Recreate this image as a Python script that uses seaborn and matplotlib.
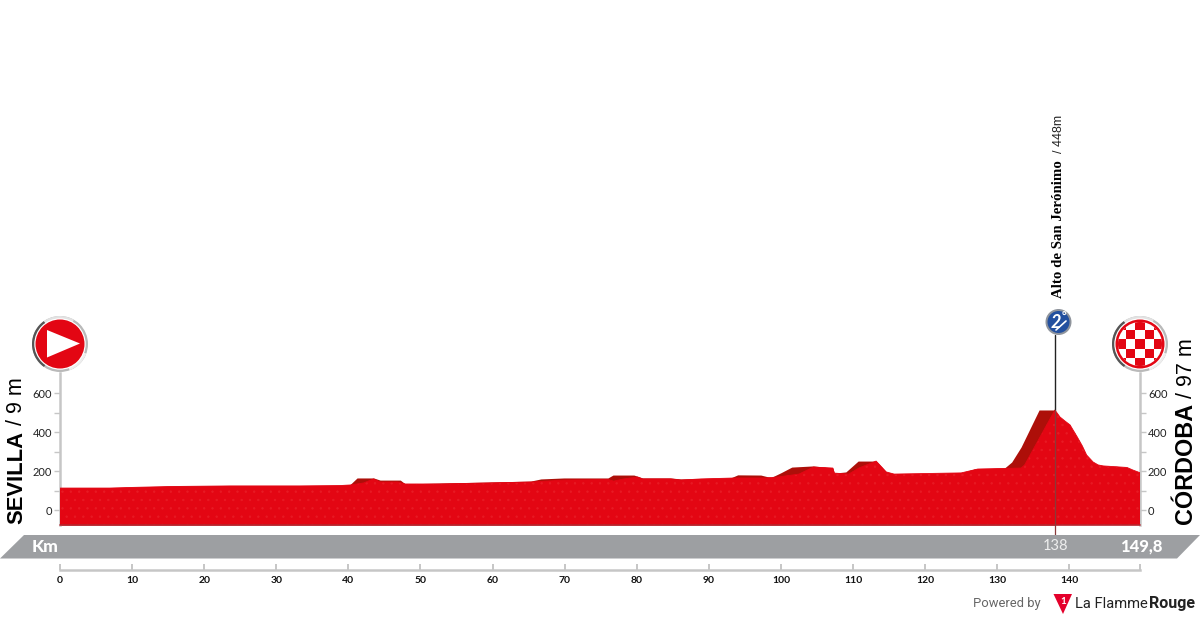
import matplotlib
matplotlib.use("Agg")
import matplotlib.pyplot as plt
import seaborn as sns
import numpy as np
from matplotlib.patches import Circle, Polygon, Wedge, Rectangle

# ---- data (km, metres as drawn on the profile) ----
front_km = [0, 6.9, 9.7, 15.3, 23.6, 33.3, 38.9, 40.3, 42.1, 43.5, 44.4, 46.8, 47.9, 52.8, 59.3, 65.3, 69.9, 76, 76.8, 78.2, 80.1, 80.8, 84.7, 86.1, 88.9, 93.8, 97.9, 99.6, 102.5, 104.5, 107.2, 107.4, 109.4, 110.8, 113.2, 114.6, 115.7, 125, 127.3, 133.3, 133.8, 138, 138.7, 139.4, 140.1, 140.6, 141.1, 141.8, 142.4, 142.9, 143.3, 144, 144.7, 148, 148.8, 149.8]
front_m = [113, 113, 116, 121, 124, 124, 126, 129, 139, 160, 144, 144, 134, 134, 139, 144, 154, 157, 149, 160, 170, 160, 160, 154, 160, 165, 165, 170, 185, 221, 216, 190, 185, 216, 252, 196, 185, 191, 211, 216, 232, 515, 479, 458, 438, 407, 376, 330, 283, 263, 247, 232, 227, 219, 206, 192]
back_km = [0, 7, 10, 14, 16, 32, 38, 40.2, 41.2, 43.5, 44.4, 47.2, 47.9, 52.8, 59.3, 65.3, 66.7, 69.9, 76, 76.7, 79.6, 80.8, 84.7, 86.1, 93, 94, 97.2, 98.6, 100, 101.5, 104.5, 107.2, 107.4, 109, 110.7, 113.2, 114.6, 115.7, 125, 126.8, 131, 132, 133.3, 135.8, 138]
back_m = [113, 114, 118, 121, 124, 124, 126, 130, 165, 165, 154, 154, 134, 139, 144, 149, 160, 165, 165, 180, 180, 165, 165, 160, 165, 181, 180, 167, 192, 221, 227, 216, 190, 196, 252, 252, 196, 185, 191, 211, 216, 247, 324, 515, 515]
x_ticks = list(range(0, 150, 10))
y_ticks = list(range(0, 700, 100))
y_labels = ["0", "", "200", "", "400", "", "600"]
start_name, start_alt = "SEVILLA", " / 9 m"
finish_name, finish_alt = "CÓRDOBA", " / 97 m"
climb_name, climb_alt = "Alto de San Jerónimo", "/ 448m"
climb_km = 138
band_labels = ["Km", "138", "149,8"]

RED, DARK, GREY, AXIS = "#e30613", "#ad0f09", "#9d9fa2", "#c6c6c6"
sns.set_theme(style="white")
plt.rcParams["font.family"] = ["Lato", "DejaVu Sans"]
plt.rcParams["hatch.linewidth"] = 0.5

W, H = 1200, 620
fig = plt.figure(figsize=(12, 6.2), dpi=100, facecolor="white")
ax = fig.add_axes([60 / W, 1 - 525 / H, 1080 / W, 152 / H], facecolor="none")
BASE = -77.2
ax.set_xlim(0, 149.8)
ax.set_ylim(BASE, 705.4)

ax.fill_between(back_km, BASE, back_m, color=DARK, linewidth=0, zorder=2)
ax.fill_between(front_km, BASE, front_m, facecolor=RED, edgecolor="#e81a24", hatch="..", linewidth=0, zorder=3)
sns.lineplot(x=front_km, y=front_m, ax=ax, color=RED, lw=0.6, zorder=3, errorbar=None)
ax.plot([0, 149.8], [BASE, BASE], color="#b8232c", lw=1.2, zorder=4, clip_on=False)
ax.plot([climb_km, climb_km], [515, 901], color="#222222", lw=1.0, zorder=5, clip_on=False)
ax.plot([climb_km, climb_km], [BASE - 52, 515], color="#8a3a3a", lw=0.9, zorder=5, clip_on=False)

for s in ["top"]:
    ax.spines[s].set_visible(False)
for s in ["left", "right", "bottom"]:
    ax.spines[s].set_color(AXIS)
    ax.spines[s].set_linewidth(1.8)
ax.spines["bottom"].set_position(("outward", 32.4))
ax.set_xticks(x_ticks + [149.8], [str(t) for t in x_ticks] + [""])
ax.set_yticks(y_ticks, y_labels)
ax.tick_params(axis="x", direction="in", bottom=True, length=4.3, width=1.4, color=AXIS, pad=4.5, labelsize=7.5, labelcolor="#111111")
ax.tick_params(axis="y", direction="out", length=4.2, width=1, color=AXIS, pad=1.5, labelsize=8, labelcolor="#222222", left=True, right=True, labelleft=True, labelright=True)
for t in ax.get_xticklabels():
    t.set_fontweight("bold")

# ---- overlay in pixel coordinates for the band, badges and labels ----
ov = fig.add_axes([0, 0, 1, 1], facecolor="none")
ov.set_xlim(0, W)
ov.set_ylim(H, 0)
ov.axis("off")

ov.add_patch(Polygon([(0, 558.5), (24, 535), (1200, 535), (1177, 558.5)], closed=True, color=GREY, lw=0))
ov.text(45, 547, band_labels[0], color="white", fontsize=12.5, fontweight="black", ha="center", va="center")
ov.text(1055, 546.5, band_labels[1], color="#eeeeee", fontsize=10.5, ha="center", va="center")
ov.text(1141, 546.5, band_labels[2], color="white", fontsize=12, fontweight="black", ha="center", va="center")

SANS = ["Liberation Sans", "DejaVu Sans"]
def vtext(x, y, s, **kw):
    ov.text(x, y, s, rotation=90, ha="left", va="baseline", rotation_mode="anchor", **kw)

vtext(22.5, 524, start_name, family=SANS, fontsize=15.8, fontweight="bold", color="black")
vtext(22.5, 425, start_alt.strip(), family=SANS, fontsize=15.5, color="black")
vtext(1192, 524, finish_name, family=SANS, fontsize=16.8, fontweight="bold", color="black")
vtext(1192, 398, finish_alt.strip(), family=SANS, fontsize=15.5, color="black")
vtext(1062, 298, climb_name, family=["Liberation Serif"], fontsize=10.7, fontweight="bold", color="black")
vtext(1062, 153, climb_alt, family=SANS, fontsize=9, color="#222222")


def badge(cx, cy, r_out, r_in):
    ov.add_patch(Circle((cx, cy), r_out, color="#b9b9b9", lw=0, zorder=5))
    ov.add_patch(Wedge((cx, cy), r_out, 125, 235, color="#555555", lw=0, zorder=5))
    ov.add_patch(Wedge((cx, cy), r_out, 235, 300, color="#e2e2e2", lw=0, zorder=5))
    ov.add_patch(Wedge((cx, cy), r_out, 20, 70, color="#eeeeee", lw=0, zorder=5))
    ov.add_patch(Circle((cx, cy), r_in + 1.2, color="white", lw=0, zorder=6))
    ov.add_patch(Circle((cx, cy), r_in, color=RED, lw=0, zorder=7))


# start sign
badge(60, 344, 28, 24.5)
ov.add_patch(Polygon([(47, 330), (47, 357.5), (80, 343.5)], closed=True, color="white", lw=0, zorder=8))

# finish sign
badge(1140, 344, 28, 24.5)
clip = Circle((1140, 344), 22, transform=ov.transData)
ov.add_patch(Circle((1140, 344), 22, color="white", lw=0, zorder=8))
cell = 9.3
for i in range(-3, 4):
    for j in range(-3, 4):
        if (i + j) % 2 == 0:
            r = Rectangle((1140 + (i - .5) * cell, 344 + (j - .5) * cell), cell, cell, color=RED, lw=0, zorder=9)
            ov.add_patch(r)
            r.set_clip_path(clip)

# climb badge
ov.add_patch(Circle((1058.5, 322), 13, color="#8f949c", lw=0, zorder=6))
ov.add_patch(Circle((1058.5, 322), 11, color="#23509f", lw=0, zorder=7))
ov.text(1055.5, 322.5, "2", color="white", fontsize=13, fontweight="bold", style="italic", ha="center", va="center", zorder=8)
ov.text(1064, 317, "°", color="white", fontsize=8, fontweight="bold", ha="center", va="center", zorder=8)
ov.plot([1056, 1066], [330, 321], color="white", lw=1.2, zorder=8)

# credit
ov.text(973, 603.5, "Powered by", color="#666666", fontsize=9.4, family=["Roboto"], ha="left", va="center")
ov.add_patch(Polygon([(1053.5, 594), (1072, 594), (1063, 614)], closed=True, color="#e4002b", lw=0))
ov.text(1062.8, 602, "1", color="white", fontsize=7, fontweight="bold", ha="center", va="center")
ov.text(1075, 603.5, "La Flamme", color="#222222", fontsize=10.6, family=["Roboto"], ha="left", va="center")
ov.text(1148.5, 603.5, "Rouge", color="#222222", fontsize=11.5, family=["Roboto"], fontweight="bold", ha="left", va="center")

fig.savefig("out.png", dpi=100, facecolor="white")
